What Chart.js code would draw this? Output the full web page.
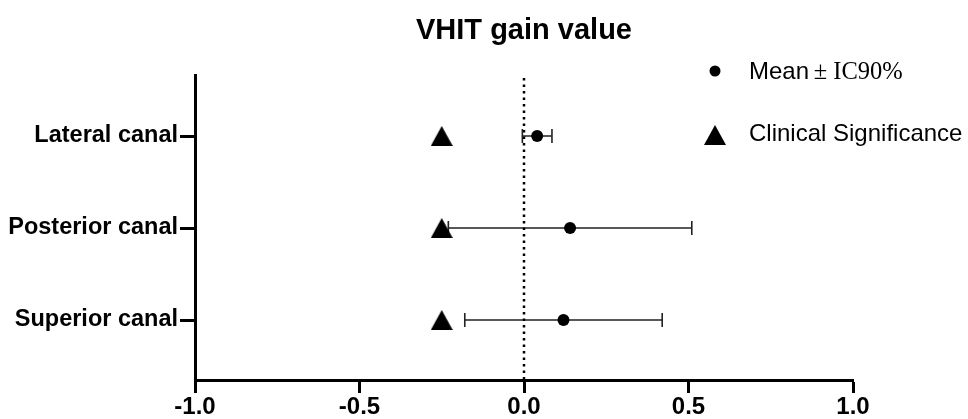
<!DOCTYPE html>
<html lang="en">
<head>
<meta charset="UTF-8">
<title>VHIT gain value</title>
<script src="https://cdn.jsdelivr.net/npm/chart.js"></script>
<style>
  body { margin: 0; background: #fff; }
  #wrap { width: 968px; height: 419px; }
</style>
</head>
<body>
<div id="wrap"><canvas id="chart" width="968" height="419"></canvas></div>
<script>
// data
const canals = ['Lateral canal', 'Posterior canal', 'Superior canal'];
const rowPos = [3, 2, 1];
const meanGain = [0.04, 0.14, 0.12];
const lowerCI = [-0.005, -0.23, -0.18];
const upperCI = [0.085, 0.51, 0.42];
const clinicalSig = [-0.25, -0.25, -0.25];
const xTicks = [-1.0, -0.5, 0.0, 0.5, 1.0];
const refLine = 0;

const FONT = '"Liberation Sans", Arial, sans-serif';

// triangle marker whose box is centred on the point
function triangleImage(w, h) {
  const c = document.createElement('canvas');
  c.width = w; c.height = h;
  const g = c.getContext('2d');
  g.fillStyle = '#000';
  g.beginPath();
  g.moveTo(w / 2, 0);
  g.lineTo(w, h);
  g.lineTo(0, h);
  g.closePath();
  g.fill();
  return c;
}
const triMarker = triangleImage(22, 20);

// error bars drawn under the points
const errorBars = {
  id: 'errorBars',
  beforeDatasetsDraw(chart) {
    const { ctx, scales: { x, y } } = chart;
    ctx.save();
    ctx.strokeStyle = '#222';
    ctx.lineWidth = 1.6;
    for (let i = 0; i < canals.length; i++) {
      const py = y.getPixelForValue(rowPos[i]);
      const x1 = x.getPixelForValue(lowerCI[i]);
      const x2 = x.getPixelForValue(upperCI[i]);
      ctx.beginPath();
      ctx.moveTo(x1, py); ctx.lineTo(x2, py);
      ctx.moveTo(x1, py - 7); ctx.lineTo(x1, py + 7);
      ctx.moveTo(x2, py - 7); ctx.lineTo(x2, py + 7);
      ctx.stroke();
    }
    ctx.restore();
  }
};

// title centred over plot + custom legend
const decorations = {
  id: 'decorations',
  afterDraw(chart) {
    const { ctx, chartArea } = chart;
    ctx.save();
    ctx.fillStyle = '#000';
    ctx.textBaseline = 'middle';
    ctx.textAlign = 'center';
    ctx.font = 'bold 29px ' + FONT;
    ctx.fillText('VHIT gain value', (chartArea.left + chartArea.right) / 2, 31);

    // legend
    ctx.textAlign = 'left';
    ctx.beginPath();
    ctx.arc(715, 71, 5.5, 0, Math.PI * 2);
    ctx.fill();
    ctx.font = '24px ' + FONT;
    ctx.fillText('Mean', 749, 72);
    const w = ctx.measureText('Mean ').width;
    ctx.font = '24.5px "Liberation Serif", "Times New Roman", serif';
    ctx.fillText('\u00b1 IC90%', 747 + w, 73);

    ctx.drawImage(triMarker, 704, 125);
    ctx.font = '24px ' + FONT;
    ctx.fillText('Clinical Significance', 749, 134);
    ctx.restore();
  }
};

new Chart(document.getElementById('chart'), {
  type: 'scatter',
  data: {
    datasets: [
      {
        label: 'zero',
        type: 'line',
        data: [{ x: refLine, y: 0 }, { x: refLine, y: 4 }],
        borderColor: '#000',
        borderWidth: 2.5,
        borderDash: [2.5, 4],
        pointRadius: 0,
        fill: false
      },
      {
        label: 'Clinical Significance',
        data: clinicalSig.map((v, i) => ({ x: v, y: rowPos[i] })),
        pointStyle: triMarker,
        radius: 11,
        backgroundColor: '#000',
        borderColor: '#000',
        borderWidth: 0
      },
      {
        label: 'Mean \u00b1 IC90%',
        data: meanGain.map((v, i) => ({ x: v, y: rowPos[i] })),
        pointStyle: 'circle',
        radius: 6,
        backgroundColor: '#000',
        borderColor: '#000',
        borderWidth: 0
      }
    ]
  },
  options: {
    responsive: false,
    devicePixelRatio: 1,
    animation: false,
    layout: { padding: { top: 75, right: 115, left: 0, bottom: 0 } },
    plugins: {
      legend: { display: false },
      tooltip: { enabled: false },
      title: { display: false }
    },
    scales: {
      x: {
        type: 'linear',
        min: -1,
        max: 1,
        afterBuildTicks: s => { s.ticks = xTicks.map(v => ({ value: v })); },
        afterFit: s => { s.height = 39; },
        border: { display: true, color: '#000', width: 3 },
        grid: { drawOnChartArea: false, drawTicks: true, tickLength: 13, tickWidth: 3, tickColor: '#000' },
        ticks: {
          color: '#000',
          padding: 0,
          font: { family: FONT, size: 24, weight: 'bold' },
          callback: v => v.toFixed(1)
        }
      },
      y: {
        type: 'linear',
        min: 0.348,
        max: 3.663,
        afterBuildTicks: s => { s.ticks = rowPos.map(v => ({ value: v })); },
        afterFit: s => { s.width = 195; },
        border: { display: true, color: '#000', width: 3 },
        grid: { drawOnChartArea: false, drawTicks: true, tickLength: 15, tickWidth: 3, tickColor: '#000' },
        ticks: {
          color: '#000',
          padding: 2,
          font: { family: FONT, size: 23.5, weight: 'bold' },
          callback: v => canals[rowPos.indexOf(v)]
        }
      }
    }
  },
  plugins: [errorBars, decorations]
});
</script>
</body>
</html>
